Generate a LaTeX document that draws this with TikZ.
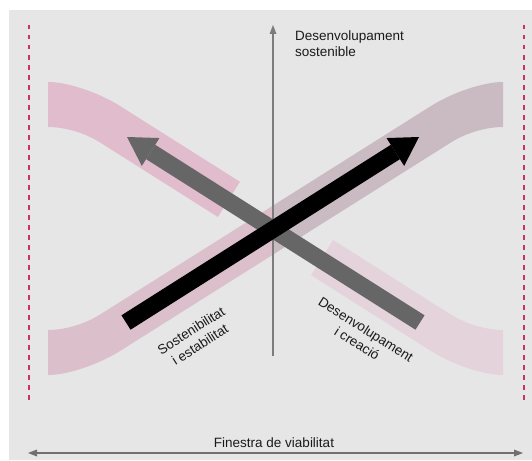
\documentclass[tikz,border=0pt]{standalone}
\usepackage{fontspec}
\setmainfont{Liberation Sans}
\usetikzlibrary{arrows.meta}
\definecolor{panelgray}{HTML}{E6E6E6}
\definecolor{bandUL}{HTML}{E1BCCC}
\definecolor{bandRL}{HTML}{DBBFCB}
\definecolor{bandRR}{HTML}{C9BBC1}
\definecolor{bandLR}{HTML}{E4D3DA}
\definecolor{dashred}{HTML}{C83264}
\definecolor{arrgray}{HTML}{666666}
\definecolor{axisgray}{HTML}{7C7C7C}
\definecolor{txt}{HTML}{1A1A1A}
\newcommand\risingbandpath{(48,330) .. controls (63,330) and (83,325.2) .. (100,314.6) -- (431,106) .. controls (452.2,92.7) and (483,82) .. (503,82) -- (503,127) .. controls (488,127) and (468,131.8) .. (451,142.4) -- (120,351) .. controls (98.8,364.3) and (68,375) .. (48,375) -- cycle}
\tikzset{
  lbl/.style={font=\fontsize{13.5}{15.5}\selectfont, text=txt, inner sep=0pt},
  rotlbl/.style={font=\fontsize{13.5}{16.5}\selectfont, text=txt, inner sep=0pt, align=center},
  bigarrow/.style={line width=17pt, line cap=butt, -{Triangle[length=28pt,width=33pt,line width=0pt]}},
  thinaxis/.style={draw=axisgray, line width=1.5pt, -{Triangle[length=9pt,width=7pt,line width=0pt]}},
  widthaxis/.style={draw=axisgray!90!black, line width=1.5pt, {Triangle[length=9pt,width=7pt,line width=0pt]}-{Triangle[length=9pt,width=7pt,line width=0pt]}},
  reddash/.style={draw=dashred, line width=2pt, dash pattern=on 4.5pt off 5.5pt}
}
\begin{document}
\begin{tikzpicture}[x=1pt,y=-1pt]
\useasboundingbox (0,0) rectangle (532,460);
\fill[panelgray] (9,10) rectangle (532,460);
% dashed limits
\coordinate (dl1) at (29,25); \coordinate (dl2) at (29,402);
\coordinate (dr1) at (524,25); \coordinate (dr2) at (524,402);
\draw[reddash] (dl1) -- (dl2);
\draw[reddash] (dr1) -- (dr2);
% rising band (two colours, split at axis)
\begin{scope}
  \clip (0,0) rectangle (273,460);
  \fill[bandRL] \risingbandpath;
\end{scope}
\begin{scope}
  \clip (273,0) rectangle (532,460);
  \fill[bandRR] \risingbandpath;
\end{scope}
% falling band pieces
\fill[bandUL] (48,82) .. controls (68,82) and (98.8,92.7) .. (120,106) -- (239.9,181.8) -- (217.9,217) -- (100,142.4) .. controls (83,131.8) and (63,127) .. (48,127) -- cycle;
\fill[bandLR] (333.1,240) -- (451,314.6) .. controls (468,325.2) and (488,330) .. (503,330) -- (503,375) .. controls (483,375) and (452.2,364.3) .. (431,351) -- (311.1,275.2) -- cycle;
% vertical axis
\coordinate (axbot) at (273,356);
\coordinate (axtop) at (273,25);
\draw[thinaxis] (axbot) -- (axtop);
% big arrows
\coordinate (gtail) at (420,322.5);
\coordinate (gtip) at (127,137);
\coordinate (btail) at (126,322.5);
\coordinate (btip) at (419,137);
\draw[bigarrow, draw=arrgray, fill=arrgray] (gtail) -- (gtip);
\draw[bigarrow, draw=black, fill=black] (btail) -- (btip);
% bottom width arrow
\coordinate (wl) at (28,453);
\coordinate (wr) at (523,453);
\draw[widthaxis] (wl) -- (wr);
% labels
\node[lbl, anchor=north west, align=left] (topl) at (295,31) {Desenvolupament\\sostenible};
\node[lbl, anchor=base] (botl) at (274,447) {Finestra de viabilitat};
\node[rotlbl, rotate=32.4] (sost) at (195.5,337.5) {Sostenibilitat\\i estabilitat};
\node[rotlbl, rotate=-32.4] (desc) at (361.5,336.5) {Desenvolupament\\i creació};
\end{tikzpicture}
\end{document}
